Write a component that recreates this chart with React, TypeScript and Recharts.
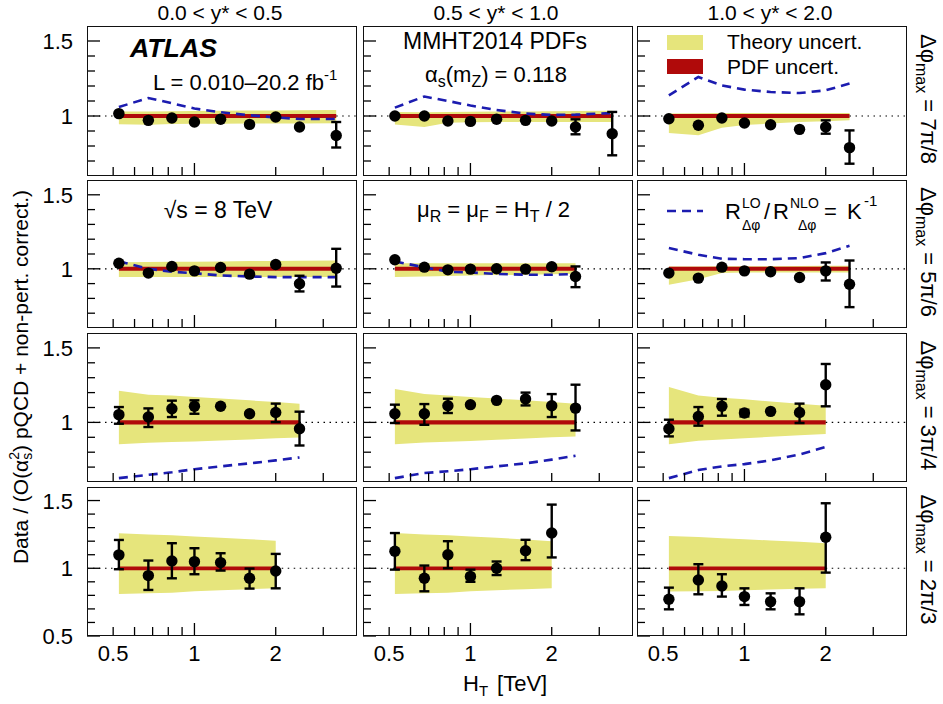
import React from 'react';
import { ComposedChart, Area, Line, Scatter, ErrorBar, XAxis, YAxis, ReferenceLine } from 'recharts';

// HT bin centres (TeV)
const HT9 = [0.525, 0.675, 0.825, 1.0, 1.25, 1.6, 2.0, 2.45, 3.35];
const HT8 = HT9.slice(0, 8);
const HT7 = HT9.slice(0, 7);

const X_TICKS = [0.5, 0.6, 0.7, 0.8, 0.9, 1, 2, 3];
const X_LABELS = [0.5, 1, 2];
const Y_TICKS = [0.7, 0.8, 0.9, 1, 1.1, 1.2, 1.3, 1.4, 1.5];
const Y_TICKS_LAST = [0.5, 0.6, 0.7, 0.8, 0.9, 1, 1.1, 1.2, 1.3, 1.4, 1.5];
const Y_LABELS = [0.5, 1, 1.5];

const COL_TITLES = ['0.0 < y* < 0.5', '0.5 < y* < 1.0', '1.0 < y* < 2.0'];
const ROW_LABELS = ['7π/8', '5π/6', '3π/4', '2π/3'];

// row 1 : dphi_max = 7pi/8
const r1c1Y = [1.016, 0.971, 0.987, 0.96, 0.978, 0.944, 0.993, 0.927, 0.87];
const r1c1Err = [null, null, null, null, null, null, null, null, [0.79, 0.96]];
const r1c1ThLo = [0.945, 0.942, 0.946, 0.948, 0.948, 0.95, 0.95, 0.95, 0.952];
const r1c1ThHi = [1.03, 1.03, 1.032, 1.033, 1.035, 1.036, 1.037, 1.038, 1.04];
const r1c1K = [1.06, 1.12, 1.085, 1.05, 1.025, 1.005, 0.99, 0.98, 0.98];

const r1c2Y = [1.0, 1.0, 0.967, 0.964, 0.978, 0.971, 0.967, 0.927, 0.882];
const r1c2Err = [null, null, null, null, null, null, null, [0.878, 0.978], [0.738, 1.027]];
const r1c2ThLo = [0.944, 0.927, 0.955, 0.958, 0.96, 0.96, 0.96, 0.96, 0.96];
const r1c2ThHi = [1.027, 1.025, 1.027, 1.028, 1.03, 1.03, 1.032, 1.033, 1.035];
const r1c2K = [1.056, 1.13, 1.1, 1.07, 1.04, 1.016, 1.007, 1.009, 1.02];

const r1c3Y = [0.982, 0.938, 0.987, 0.953, 0.942, 0.911, 0.927, 0.789];
const r1c3Err = [null, null, null, null, null, null, [0.882, 0.971], [0.682, 0.904]];
const r1c3ThLo = [0.887, 0.871, 0.922, 0.94, 0.95, 0.96, 0.965, 0.971];
const r1c3ThHi = [1.016, 1.018, 1.02, 1.02, 1.02, 1.02, 1.02, 1.02];
const r1c3K = [1.138, 1.26, 1.204, 1.176, 1.16, 1.153, 1.171, 1.216];

// row 2 : dphi_max = 5pi/6
const r2c1Y = [1.038, 0.971, 1.016, 0.986, 1.009, 0.964, 1.029, 0.899, 1.004];
const r2c1Err = [null, null, null, null, null, null, null, [0.847, 0.953], [0.88, 1.135]];
const r2c1ThLo = [0.944, 0.944, 0.944, 0.944, 0.944, 0.944, 0.944, 0.944, 0.944];
const r2c1ThHi = [1.045, 1.046, 1.047, 1.048, 1.05, 1.052, 1.053, 1.055, 1.056];
const r2c1K = [1.05, 1.0, 0.98, 0.97, 0.955, 0.948, 0.944, 0.944, 0.944];

const r2c2Y = [1.061, 1.011, 0.993, 0.998, 1.0, 0.998, 1.014, 0.948];
const r2c2Err = [null, null, null, null, null, null, null, [0.876, 1.016]];
const r2c2ThLo = [0.944, 0.948, 0.952, 0.955, 0.958, 0.96, 0.963, 0.966];
const r2c2ThHi = [1.038, 1.038, 1.038, 1.038, 1.038, 1.038, 1.038, 1.038];
const r2c2K = [1.05, 1.01, 0.98, 0.975, 0.965, 0.96, 0.96, 0.965];

const r2c3Y = [0.971, 0.937, 1.011, 0.986, 0.98, 0.941, 0.986, 0.896];
const r2c3Err = [null, null, null, null, null, null, [0.921, 1.043], [0.741, 1.056]];
const r2c3ThLo = [0.892, 0.93, 0.972, 0.975, 0.975, 0.975, 0.975, 0.975];
const r2c3ThHi = [1.016, 1.016, 1.017, 1.018, 1.018, 1.019, 1.02, 1.02];
const r2c3K = [1.14, 1.095, 1.068, 1.065, 1.065, 1.072, 1.106, 1.155];

// row 3 : dphi_max = 3pi/4
const r3c1Y = [1.052, 1.036, 1.092, 1.108, 1.108, 1.058, 1.067, 0.957];
const r3c1Err = [[0.991, 1.103], [0.969, 1.094], [1.036, 1.146], [1.058, 1.148], null, null, [1.002, 1.126], [0.845, 1.072]];
const r3c1ThLo = [0.854, 0.863, 0.868, 0.872, 0.878, 0.886, 0.893, 0.899];
const r3c1ThHi = [1.213, 1.186, 1.18, 1.17, 1.16, 1.148, 1.137, 1.126];
const r3c1K = [0.626, 0.648, 0.665, 0.686, 0.705, 0.725, 0.745, 0.765];

const r3c2Y = [1.058, 1.058, 1.112, 1.119, 1.148, 1.157, 1.112, 1.096];
const r3c2Err = [[0.996, 1.119], [0.984, 1.123], [1.063, 1.159], null, null, [1.114, 1.2], [1.036, 1.19], [0.946, 1.253]];
const r3c2ThLo = [0.854, 0.865, 0.87, 0.876, 0.884, 0.892, 0.9, 0.906];
const r3c2ThHi = [1.224, 1.19, 1.18, 1.17, 1.16, 1.148, 1.137, 1.126];
const r3c2K = [0.626, 0.66, 0.672, 0.686, 0.705, 0.725, 0.75, 0.776];

const r3c3Y = [0.957, 1.04, 1.108, 1.063, 1.074, 1.067, 1.253];
const r3c3Err = [[0.906, 1.018], [0.978, 1.103], [1.045, 1.157], [1.04, 1.085], null, [0.996, 1.126], [1.108, 1.392]];
const r3c3ThLo = [0.854, 0.877, 0.885, 0.893, 0.903, 0.913, 0.922];
const r3c3ThHi = [1.238, 1.18, 1.165, 1.155, 1.14, 1.125, 1.112];
const r3c3K = [0.626, 0.68, 0.705, 0.72, 0.745, 0.785, 0.835];

// row 4 : dphi_max = 2pi/3
const r4c1Y = [1.099, 0.946, 1.054, 1.049, 1.042, 0.926, 0.98];
const r4c1Err = [[0.993, 1.209], [0.84, 1.057], [0.926, 1.185], [0.956, 1.148], [0.983, 1.111], [0.85, 0.998], [0.852, 1.106]];
const r4c1ThLo = [0.81, 0.815, 0.82, 0.83, 0.838, 0.845, 0.852];
const r4c1ThHi = [1.259, 1.25, 1.243, 1.235, 1.225, 1.215, 1.204];

const r4c2Y = [1.126, 0.926, 1.1, 0.94, 1.0, 1.13, 1.26];
const r4c2Err = [[0.99, 1.26], [0.83, 1.02], [1.0, 1.2], [0.9, 0.99], [0.95, 1.05], [1.06, 1.21], [1.08, 1.47]];
const r4c2ThLo = [0.81, 0.815, 0.82, 0.83, 0.838, 0.845, 0.852];
const r4c2ThHi = [1.26, 1.25, 1.243, 1.235, 1.225, 1.212, 1.2];

const r4c3Y = [0.771, 0.914, 0.869, 0.791, 0.754, 0.754, 1.229];
const r4c3Err = [[0.697, 0.857], [0.808, 1.03], [0.791, 0.956], [0.729, 0.852], [0.697, 0.815], [0.66, 0.852], [0.968, 1.48]];
const r4c3ThLo = [0.828, 0.83, 0.833, 0.838, 0.843, 0.848, 0.852];
const r4c3ThHi = [1.239, 1.23, 1.222, 1.214, 1.205, 1.195, 1.185];

const PDF_HALF = 0.014;

// layout (page px)
const COL_LEFT = [87, 363, 637];
const PW = 270;
const ROW_TOP = [26, 180, 333, 487];
const ROW_H = [150, 148, 149, 149];
const YW = 60;
const XH = 30;
const MT = 10;
const MR = 10;
const MB = 10;

const X_MIN = 0.4;
const X_MAX = 4;

const FONT = '"Liberation Sans", Arial, Helvetica, sans-serif';
const YELLOW = '#e6e57c';
const RED = '#b00a0a';
const BLUE = '#1c1cb0';

function buildRows(x, y, err, thLo, thHi, k) {
  return x.map((xv, i) => ({
    x: xv,
    y: y[i],
    err: err[i] ? [y[i] - err[i][0], err[i][1] - y[i]] : [0, 0],
    th: [thLo[i], thHi[i]],
    pdf: [1 - PDF_HALF, 1 + PDF_HALF],
    k: k ? k[i] : undefined,
  }));
}

const PANELS = [
  { row: 0, col: 0, data: buildRows(HT9, r1c1Y, r1c1Err, r1c1ThLo, r1c1ThHi, r1c1K) },
  { row: 0, col: 1, data: buildRows(HT9, r1c2Y, r1c2Err, r1c2ThLo, r1c2ThHi, r1c2K) },
  { row: 0, col: 2, data: buildRows(HT8, r1c3Y, r1c3Err, r1c3ThLo, r1c3ThHi, r1c3K) },
  { row: 1, col: 0, data: buildRows(HT9, r2c1Y, r2c1Err, r2c1ThLo, r2c1ThHi, r2c1K) },
  { row: 1, col: 1, data: buildRows(HT8, r2c2Y, r2c2Err, r2c2ThLo, r2c2ThHi, r2c2K) },
  { row: 1, col: 2, data: buildRows(HT8, r2c3Y, r2c3Err, r2c3ThLo, r2c3ThHi, r2c3K) },
  { row: 2, col: 0, data: buildRows(HT8, r3c1Y, r3c1Err, r3c1ThLo, r3c1ThHi, r3c1K) },
  { row: 2, col: 1, data: buildRows(HT8, r3c2Y, r3c2Err, r3c2ThLo, r3c2ThHi, r3c2K) },
  { row: 2, col: 2, data: buildRows(HT7, r3c3Y, r3c3Err, r3c3ThLo, r3c3ThHi, r3c3K) },
  { row: 3, col: 0, data: buildRows(HT7, r4c1Y, r4c1Err, r4c1ThLo, r4c1ThHi, null) },
  { row: 3, col: 1, data: buildRows(HT7, r4c2Y, r4c2Err, r4c2ThLo, r4c2ThHi, null) },
  { row: 3, col: 2, data: buildRows(HT7, r4c3Y, r4c3Err, r4c3ThLo, r4c3ThHi, null) },
];

const renderDot = (p: any) => <circle cx={p.cx} cy={p.cy} r={5.7} fill="#000" />;

function Panel({ row, col, data }) {
  const h = ROW_H[row];
  const last = row === 3;
  const plotBottom = MT + h;
  const hasK = data[0].k !== undefined;
  const xFirst = data[0].x;
  const xLast = data[data.length - 1].x;

  const xTick = (p: any) => {
    const v = p.payload.value;
    const len = v === 1 ? 13 : 9;
    return (
      <g>
        <line x1={p.x} x2={p.x} y1={plotBottom} y2={plotBottom - len} stroke="#000" strokeWidth={1.3} />
        {last && X_LABELS.includes(v) && (
          <text x={p.x} y={plotBottom + 25} textAnchor="middle" fontSize={22} fontFamily={FONT} fill="#000">
            {v}
          </text>
        )}
      </g>
    );
  };

  const yTick = (p: any) => {
    const v = Math.round(p.payload.value * 10) / 10;
    const major = Y_LABELS.includes(v);
    return (
      <g>
        <line x1={YW} x2={YW + (major ? 13 : 8)} y1={p.y} y2={p.y} stroke="#000" strokeWidth={1.3} />
        {col === 0 && major && (
          <text x={YW - 14} y={p.y + 8} textAnchor="end" fontSize={22} fontFamily={FONT} fill="#000">
            {v}
          </text>
        )}
      </g>
    );
  };

  return (
    <div style={{ position: 'absolute', left: COL_LEFT[col] - YW, top: ROW_TOP[row] - MT }}>
      <ComposedChart
        width={YW + PW + MR}
        height={MT + h + XH + MB}
        data={data}
        margin={{ top: MT, right: MR, bottom: MB, left: 0 }}
      >
        <XAxis
          dataKey="x"
          type="number"
          scale="log"
          domain={[X_MIN, X_MAX]}
          allowDataOverflow
          ticks={X_TICKS}
          interval={0}
          height={XH}
          axisLine={false}
          tickLine={false}
          tickSize={0}
          tick={xTick}
        />
        <YAxis
          type="number"
          domain={last ? [0.5, 1.6] : [0.6, 1.6]}
          allowDataOverflow
          ticks={last ? Y_TICKS_LAST : Y_TICKS}
          interval={0}
          width={YW}
          axisLine={false}
          tickLine={false}
          tickSize={0}
          tick={yTick}
        />
        {/* dotted unity line, left and right of the bands */}
        <ReferenceLine
          segment={[{ x: X_MIN, y: 1 }, { x: xFirst, y: 1 }]}
          stroke="#000"
          strokeWidth={1.2}
          strokeDasharray="1.5 4.5"
        />
        <ReferenceLine
          segment={[{ x: xLast, y: 1 }, { x: X_MAX, y: 1 }]}
          stroke="#000"
          strokeWidth={1.2}
          strokeDasharray="1.5 4.5"
        />
        <Area dataKey="th" type="linear" stroke="none" fill={YELLOW} fillOpacity={1} isAnimationActive={false} />
        <Area dataKey="pdf" type="linear" stroke="none" fill={RED} fillOpacity={1} isAnimationActive={false} />
        {hasK && (
          <Line
            dataKey="k"
            type="linear"
            stroke={BLUE}
            strokeWidth={2.6}
            strokeDasharray="9 6"
            dot={false}
            isAnimationActive={false}
          />
        )}
        <Scatter dataKey="y" shape={renderDot} isAnimationActive={false}>
          <ErrorBar dataKey="err" direction="y" width={5} strokeWidth={2.4} stroke="#000" />
        </Scatter>
      </ComposedChart>
      <div
        style={{
          position: 'absolute',
          left: YW,
          top: MT,
          width: PW,
          height: h,
          border: '1.5px solid #111',
          boxSizing: 'border-box',
          pointerEvents: 'none',
        }}
      />
    </div>
  );
}

export default function App() {
  const colCentre = COL_LEFT.map((l) => l + PW / 2);
  return (
    <div style={{ position: 'absolute', left: 0, top: 0, width: 943, height: 704, background: '#fff', overflow: 'hidden' }}>
      {PANELS.map((p) => (
        <Panel key={`${p.row}-${p.col}`} row={p.row} col={p.col} data={p.data} />
      ))}
      <svg
        width={943}
        height={704}
        style={{ position: 'absolute', left: 0, top: 0, pointerEvents: 'none' }}
        fontFamily={FONT}
        fill="#000"
      >
        {COL_TITLES.map((t, i) => (
          <text key={t} x={colCentre[i] - 2} y={20} textAnchor="middle" fontSize={21}>
            {t}
          </text>
        ))}
        {ROW_LABELS.map((t, i) => (
          <text
            key={t}
            transform={`translate(921, ${ROW_TOP[i] + ROW_H[i] / 2 - 2}) rotate(90)`}
            textAnchor="middle"
            fontSize={22}
          >
            Δφ
            <tspan dy={5} fontSize={16}>max</tspan>
            <tspan dy={-5}>{` = ${t}`}</tspan>
          </text>
        ))}
        <text transform="translate(28, 377) rotate(-90)" textAnchor="middle" fontSize={21}>
          Data / (O(α
          <tspan dy={4} fontSize={14}>s</tspan>
          <tspan dx={-7} dy={-13} fontSize={14}>2</tspan>
          <tspan dy={9}>) pQCD + non-pert. correct.)</tspan>
        </text>
        <text x={463} y={691} fontSize={22}>
          H<tspan dy={5} fontSize={15}>T</tspan>
          <tspan dx={9} dy={-5}>[TeV]</tspan>
        </text>

        {/* row 1 annotations */}
        <text x={130} y={57} fontSize={25} fontWeight="bold" fontStyle="italic" textLength={87} lengthAdjust="spacingAndGlyphs">
          ATLAS
        </text>
        <text x={153} y={90} fontSize={22}>
          L = 0.010–20.2 fb<tspan dy={-10} fontSize={15}>-1</tspan>
        </text>
        <text x={495} y={49} textAnchor="middle" fontSize={23}>
          MMHT2014 PDFs
        </text>
        <text x={425} y={82} fontSize={22}>
          α<tspan dy={5} fontSize={16}>s</tspan>
          <tspan dy={-5}>(m</tspan>
          <tspan dy={5} fontSize={16}>Z</tspan>
          <tspan dy={-5}>) = 0.118</tspan>
        </text>
        <rect x={667} y={35} width={36} height={15} fill={YELLOW} />
        <text x={727} y={49} fontSize={21}>
          Theory uncert.
        </text>
        <rect x={667} y={59} width={36} height={15} fill={RED} />
        <text x={727} y={74} fontSize={21}>
          PDF uncert.
        </text>

        {/* row 2 annotations */}
        <text x={218} y={218} textAnchor="middle" fontSize={23}>
          √s = 8 TeV
        </text>
        <text x={417} y={217} fontSize={22}>
          μ<tspan dy={5} fontSize={16}>R</tspan>
          <tspan dy={-5}> = μ</tspan>
          <tspan dy={5} fontSize={16}>F</tspan>
          <tspan dy={-5}> = H</tspan>
          <tspan dy={5} fontSize={16}>T</tspan>
          <tspan dy={-5}> / 2</tspan>
        </text>
        <line x1={667} x2={703} y1={211} y2={211} stroke={BLUE} strokeWidth={2.6} strokeDasharray="9 6" />
        <text x={725} y={219} fontSize={22}>R</text>
        <text x={742} y={208} fontSize={14}>LO</text>
        <text x={742} y={230} fontSize={14}>Δφ</text>
        <text x={764} y={219} fontSize={22}>/</text>
        <text x={773} y={219} fontSize={22}>R</text>
        <text x={790} y={208} fontSize={14}>NLO</text>
        <text x={798} y={230} fontSize={14}>Δφ</text>
        <text x={824} y={219} fontSize={22}>=</text>
        <text x={847} y={219} fontSize={22}>K</text>
        <text x={864} y={206} fontSize={15}>-1</text>
      </svg>
    </div>
  );
}
